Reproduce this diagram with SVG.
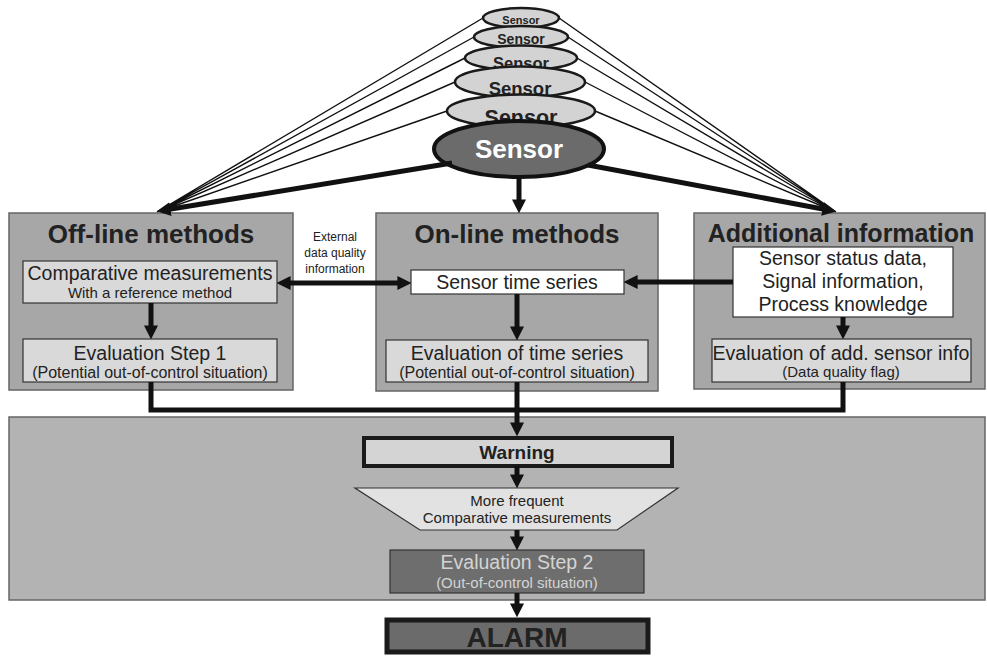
<svg xmlns="http://www.w3.org/2000/svg" width="987" height="656" viewBox="0 0 987 656">
<defs>
<marker id="ah" viewBox="0 0 10 10" refX="4" refY="5" markerWidth="14" markerHeight="14" markerUnits="userSpaceOnUse" orient="auto-start-reverse">
<path d="M0,0 L10,5 L0,10 z" fill="#111"/>
</marker>
</defs>
<style>
text{font-family:"Liberation Sans",Arial,sans-serif;fill:#222;text-anchor:middle}
.b{font-weight:bold}
.panel{fill:#a7a7a7;stroke:#666;stroke-width:1.5}
.light{fill:#d9d9d9;stroke:#333;stroke-width:1.2}
.white{fill:#fff;stroke:#333;stroke-width:1.2}
.se{fill:#d3d3d3;stroke:#1a1a1a;stroke-width:2.5}
.thick{fill:none;stroke:#111;stroke-width:5}
.thin{fill:none;stroke:#111;stroke-width:1.4}
</style>
<rect width="987" height="656" fill="#fff"/>

<g id="connectors-sensors">
<path class="thin" d="M483,18 L157,212 M474,37 L157,212 M465,58 L157,212 M455,82 L157,212 M447,111 L157,212"/>
<path class="thin" d="M559,18 L836,212 M568,37 L836,212 M577,58 L836,212 M585,82 L836,212 M595,111 L836,212"/>
</g>

<g id="sensor1"><ellipse class="se" cx="521" cy="18" rx="38" ry="10"/><text class="b" x="521" y="24" font-size="11">Sensor</text></g>
<g id="sensor2"><ellipse class="se" cx="521" cy="37" rx="47" ry="11"/><text class="b" x="521" y="44" font-size="14">Sensor</text></g>
<g id="sensor3"><ellipse class="se" cx="521" cy="58" rx="56" ry="12.5"/><text class="b" x="521" y="69" font-size="16.5">Sensor</text></g>
<g id="sensor4"><ellipse class="se" cx="520" cy="82" rx="65" ry="15.5"/><text class="b" x="520" y="95" font-size="18.5">Sensor</text></g>
<g id="sensor5"><ellipse class="se" cx="521" cy="111" rx="74" ry="16.5"/><text class="b" x="521" y="125" font-size="21.5">Sensor</text></g>
<g id="sensor-main"><ellipse cx="519" cy="149" rx="85" ry="28" fill="#6b6b6b" stroke="#111" stroke-width="4"/><text class="b" x="519" y="158" font-size="26" style="fill:#fff">Sensor</text></g>

<g id="offline">
<rect class="panel" x="9" y="213" width="284" height="177"/>
<text class="b" x="151" y="243" font-size="26">Off-line methods</text>
<g id="comparative"><rect class="light" x="23" y="261" width="254" height="42"/>
<text x="150" y="280" font-size="19.5">Comparative measurements</text>
<text x="150" y="298" font-size="15">With a reference method</text></g>
<g id="eval1"><rect class="light" x="23" y="339" width="254" height="43"/>
<text x="150" y="360" font-size="19.5">Evaluation Step 1</text>
<text x="150" y="378" font-size="16">(Potential out-of-control situation)</text></g>
</g>

<g id="external-label">
<text x="335" y="241" font-size="12">External</text>
<text x="335" y="257" font-size="12">data quality</text>
<text x="335" y="273" font-size="12">information</text>
</g>

<g id="online">
<rect class="panel" x="376" y="213" width="282" height="178"/>
<text class="b" x="517" y="243" font-size="26">On-line methods</text>
<g id="timeseries"><rect class="white" x="411" y="270" width="213" height="24"/>
<text x="517" y="289" font-size="19.5">Sensor time series</text></g>
<g id="evalts"><rect class="light" x="386" y="340" width="262" height="42"/>
<text x="517" y="360" font-size="19.5">Evaluation of time series</text>
<text x="517" y="378" font-size="16">(Potential out-of-control situation)</text></g>
</g>

<g id="additional">
<rect class="panel" x="694" y="213" width="291" height="176"/>
<text class="b" x="841" y="242" font-size="25">Additional information</text>
<g id="status"><rect class="white" x="733" y="247" width="220" height="70"/>
<text x="843" y="265" font-size="19.5">Sensor status data,</text>
<text x="843" y="288" font-size="19.5">Signal information,</text>
<text x="843" y="311" font-size="19.5">Process knowledge</text></g>
<g id="evaladd"><rect class="light" x="712" y="339" width="259" height="43"/>
<text x="841" y="360" font-size="19.5">Evaluation of add. sensor info</text>
<text x="841" y="377" font-size="15">(Data quality flag)</text></g>
</g>

<g id="bottom-panel">
<rect x="9" y="417" width="976" height="183" fill="#b3b3b3" stroke="#666" stroke-width="1.5"/>
</g>

<g id="warning"><rect x="364" y="438" width="308" height="28" fill="#d4d4d4" stroke="#1a1a1a" stroke-width="4"/>
<text class="b" x="517" y="459" font-size="19">Warning</text></g>

<g id="frequent"><polygon points="355,488 678,488 617,530 420,530" fill="#e2e2e2" stroke="#333" stroke-width="1.2"/>
<text x="517" y="506" font-size="15">More frequent</text>
<text x="517" y="523" font-size="15">Comparative measurements</text></g>

<g id="eval2"><rect x="390" y="550" width="254" height="43" fill="#6e6e6e" stroke="#333" stroke-width="1.2"/>
<text x="517" y="569" font-size="19.5" style="fill:#d4d4d4">Evaluation Step 2</text>
<text x="517" y="588" font-size="15" style="fill:#d4d4d4">(Out-of-control situation)</text></g>

<g id="alarm"><rect x="387" y="620" width="261" height="32" fill="#6b6b6b" stroke="#1a1a1a" stroke-width="5"/>
<text class="b" x="517" y="647" font-size="28">ALARM</text></g>

<g id="connectors">
<path class="thick" d="M452,163 L165,210" marker-end="url(#ah)"/>
<path class="thick" d="M588,165 L828,210" marker-end="url(#ah)"/>
<path class="thick" d="M519,177 L519,205" marker-end="url(#ah)"/>
<path class="thick" d="M285,283 L403,283" marker-start="url(#ah)" marker-end="url(#ah)"/>
<path class="thick" d="M733,282 L632,282" marker-end="url(#ah)"/>
<path class="thick" d="M151,303 L151,331" marker-end="url(#ah)"/>
<path class="thick" d="M517,294 L517,332" marker-end="url(#ah)"/>
<path class="thick" d="M843,317 L843,331" marker-end="url(#ah)"/>
<path class="thick" d="M151,382 L151,410 L843,410 L843,382"/>
<path class="thick" d="M517,382 L517,428" marker-end="url(#ah)"/>
<path class="thick" d="M517,466 L517,480" marker-end="url(#ah)"/>
<path class="thick" d="M517,530 L517,542" marker-end="url(#ah)"/>
<path class="thick" d="M517,593 L517,609" marker-end="url(#ah)"/>
</g>
</svg>
